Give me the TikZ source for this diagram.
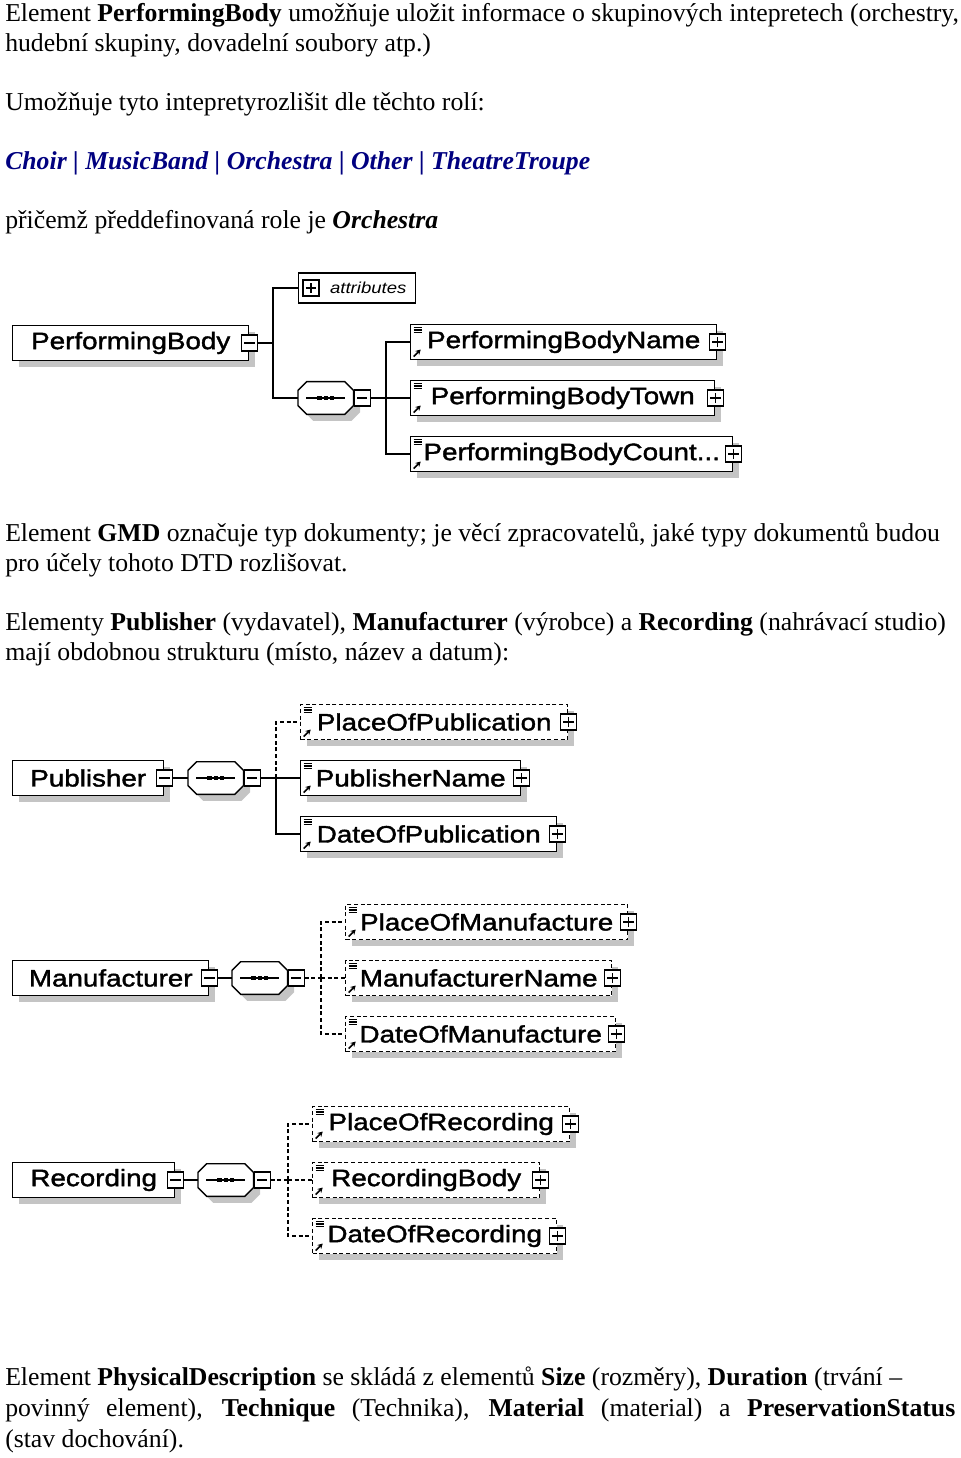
\documentclass[tikz,border=0pt]{standalone}
\usepackage{fontspec}
\setmainfont{Liberation Serif}
\newfontfamily\dgmfont{Liberation Sans}[FakeStretch=1.17,FakeBold=1.6]
\newfontfamily\attrfont{Liberation Sans}[FakeStretch=1.17]
\usepackage{xcolor}
\usetikzlibrary{positioning,arrows.meta,shadows,backgrounds}
\definecolor{rolenavy}{RGB}{0,0,128}
\definecolor{shadowgrey}{RGB}{196,196,196}
\newcommand{\bodyfont}{\fontsize{19.3}{22.5}\selectfont}
\newcommand{\boxfont}{\dgmfont\fontsize{17.8}{20}\selectfont}
% outline of a sequence compositor, corners cut
\newcommand{\octpath}[1]{([xshift=6.5pt]#1.north west) -- ([xshift=-6.5pt]#1.north east)
  -- ([yshift=-6.5pt]#1.north east) -- ([yshift=6.5pt]#1.south east)
  -- ([xshift=-6.5pt]#1.south east) -- ([xshift=6.5pt]#1.south west)
  -- ([yshift=6.5pt]#1.south west) -- ([yshift=-6.5pt]#1.north west) -- cycle}
\tikzset{
  para/.style    ={anchor=base west, align=left, inner sep=0pt, font=\bodyfont},
  shade/.style   ={drop shadow={shadow xshift=5pt, shadow yshift=-5pt, fill=shadowgrey,
                                draw=none, opacity=1}},
  elem/.style    ={draw, fill=white, line width=1.1pt, anchor=west, inner sep=0pt,
                   minimum height=26.25pt, font=\boxfont, shade},
  refelem/.style ={elem, path picture={
                     \foreach \k in {3,5.5,8}
                       \draw[solid, line width=0.8pt] ([shift={(3,\k)}]path picture bounding box.north west) -- ++(8,0);
                     \draw[solid, line width=1.3pt, -{Stealth[length=3.8pt,width=4.2pt]}]
                       ([shift={(3,-3)}]path picture bounding box.south west) -- ++(7,-7);}},
  optref/.style  ={refelem, dash pattern=on 3pt off 2pt},
  seqbox/.style  ={rectangle, anchor=west, inner sep=0pt,
                   minimum width=41.25pt, minimum height=24pt,
                   path picture={
                     \draw[line width=1pt] ([xshift=6pt]path picture bounding box.west)
                       -- ([xshift=-6pt]path picture bounding box.east);
                     \foreach \d in {-4.6pt,0pt,4.6pt}
                       \fill ([xshift=\d]path picture bounding box.center) +(-1.7pt,-1.7pt) rectangle +(1.7pt,1.7pt);}},
  seqframe/.style={draw, fill=white, line width=1.1pt, shade},
  tgl/.style     ={draw, fill=white, line width=0.9pt, inner sep=0pt, minimum size=12pt},
  minusbox/.style={tgl, path picture={
                     \draw[line width=0.9pt] ([xshift=2.2pt]path picture bounding box.west)
                       -- ([xshift=-2.2pt]path picture bounding box.east);}},
  plusbox/.style ={tgl, path picture={
                     \draw[line width=0.9pt] ([xshift=2.2pt]path picture bounding box.west)
                       -- ([xshift=-2.2pt]path picture bounding box.east);
                     \draw[line width=0.9pt] ([yshift=2.2pt]path picture bounding box.south)
                       -- ([yshift=-2.2pt]path picture bounding box.north);}},
  attrbox/.style ={draw, fill=white, line width=1.1pt, anchor=west, inner sep=0pt,
                   minimum width=87.75pt, minimum height=22.5pt,
                   font=\attrfont\itshape\fontsize{11.9}{14}\selectfont},
  conn/.style    ={line width=1.1pt},
  optconn/.style ={conn, dash pattern=on 3pt off 2pt},
}
\begin{document}
\begin{tikzpicture}[x=0.75pt,y=-0.75pt]
\useasboundingbox (0,0) rectangle (960,1458);

% ---------- text: PerformingBody ----------
\node[para] (intro) at (5,52) {Element \textbf{PerformingBody} umožňuje uložit informace o skupinových intepretech (orchestry,\\
  hudební skupiny, dovadelní soubory atp.)};
\node[para] (roles) at (5,111) {Umožňuje tyto intepretyrozlišit dle těchto rolí:};
\node[para, text=rolenavy, font=\bodyfont\bfseries\itshape] (rolelist) at (5,170)
  {Choir | MusicBand | Orchestra | Other | TheatreTroupe};
\node[para] (default) at (5,229) {přičemž předdefinovaná role je \textbf{\textit{Orchestra}}};

% ---------- diagram: PerformingBody ----------
\node[elem, minimum width=177pt] (pb) at (12,343) {PerformingBody};
\node[minusbox] (pbm) at (pb.east) {};
\node[attrbox] (attr) at (298,288) {\hspace*{16.5pt}attributes};
\node[plusbox] (attrp) at ([xshift=9.75pt]attr.west) {};
\node[seqbox] (pbseq) at (298,398) {};
\node[minusbox, anchor=west] (pbsm) at (pbseq.east) {};
\coordinate (pbj) at (273,343);
\coordinate (pbk) at (386,398);
\foreach \nm/\lab/\w/\yy in {pbname/PerformingBodyName/306/342, pbtown/PerformingBodyTown/304/398}{
  \node[refelem, minimum width=\w*0.75pt] (\nm) at (410,\yy) {\lab};
  \node[plusbox] (\nm p) at (\nm.east) {};
}
\node[refelem, minimum width=241.5pt] (pbcount) at (410,454) {PerformingBodyCount...};
\node[plusbox] (pbcountp) at (pbcount.east) {};
\draw[conn] (pbm.east) -- (pbj) |- (attr.west);
\draw[conn] (pbj) |- (pbseq.west);
\draw[conn] (pbsm.east) -- (pbk);
\foreach \c in {pbname,pbtown,pbcount}
  \draw[conn] (pbk) |- (\c.west);

% ---------- text: GMD, Publisher ... ----------
\node[para] (gmd) at (5,571) {Element \textbf{GMD} označuje typ dokumenty; je věcí zpracovatelů, jaké typy dokumentů budou\\
  pro účely tohoto DTD rozlišovat.};
\node[para] (similar) at (5,660) {Elementy \textbf{Publisher} (vydavatel), \textbf{Manufacturer} (výrobce) a \textbf{Recording} (nahrávací studio)\\
  mají obdobnou strukturu (místo, název a datum):};

% ---------- diagram: Publisher ----------
\node[elem, minimum width=113.25pt] (pub) at (12,778) {Publisher};
\node[minusbox] (pubm) at (pub.east) {};
\node[seqbox] (pubseq) at (188,778) {};
\node[minusbox, anchor=west] (pubsm) at (pubseq.east) {};
\coordinate (pubk) at (276,778);
\foreach \nm/\lab/\w/\yy/\st in {pubplace/PlaceOfPublication/267/722/optref,
    pubname/PublisherName/220/778/refelem, pubdate/DateOfPublication/256/834/refelem}{
  \node[\st, minimum width=\w*0.75pt] (\nm) at (300,\yy) {\lab};
  \node[plusbox] (\nm p) at (\nm.east) {};
}
\draw[conn] (pubm.east) -- (pubseq.west);
\draw[conn] (pubsm.east) -- (pubk);
\draw[optconn] (pubk) |- (pubplace.west);
\draw[conn] (pubk) -- (pubname.west);
\draw[conn] (pubk) |- (pubdate.west);

% ---------- diagram: Manufacturer ----------
\node[elem, minimum width=147pt] (man) at (12,978) {Manufacturer};
\node[minusbox] (manm) at (man.east) {};
\node[seqbox] (manseq) at (232,978) {};
\node[minusbox, anchor=west] (mansm) at (manseq.east) {};
\coordinate (mank) at (321,978);
\foreach \nm/\lab/\w/\yy in {manplace/PlaceOfManufacture/282/922,
    manname/ManufacturerName/266/978, mandate/DateOfManufacture/270/1034}{
  \node[optref, minimum width=\w*0.75pt] (\nm) at (345,\yy) {\lab};
  \node[plusbox] (\nm p) at (\nm.east) {};
}
\draw[conn] (manm.east) -- (manseq.west);
\draw[optconn] (mansm.east) -- (mank);
\foreach \c in {manplace,manname,mandate}
  \draw[optconn] (mank) |- (\c.west);

% ---------- diagram: Recording ----------
\node[elem, minimum width=121.5pt] (rec) at (12,1180) {Recording};
\node[minusbox] (recm) at (rec.east) {};
\node[seqbox] (recseq) at (198,1180) {};
\node[minusbox, anchor=west] (recsm) at (recseq.east) {};
\coordinate (reck) at (288,1180);
\foreach \nm/\lab/\w/\yy in {recplace/PlaceOfRecording/257/1124,
    recbody/RecordingBody/227/1180, recdate/DateOfRecording/244/1236}{
  \node[optref, minimum width=\w*0.75pt] (\nm) at (312,\yy) {\lab};
  \node[plusbox] (\nm p) at (\nm.east) {};
}
\draw[conn] (recm.east) -- (recseq.west);
\draw[optconn] (recsm.east) -- (reck);
\foreach \c in {recplace,recbody,recdate}
  \draw[optconn] (reck) |- (\c.west);

% sequence outlines, behind their dots
\begin{scope}[on background layer]
  \foreach \s in {pbseq,pubseq,manseq,recseq}
    \path[seqframe] \octpath{\s};
\end{scope}

% ---------- text: PhysicalDescription ----------
\node[para, font=\fontsize{19.3}{23.25}\selectfont] (physdesc) at (5,1447)
  {Element \textbf{PhysicalDescription} se skládá z elementů \textbf{Size} (rozměry), \textbf{Duration} (trvání –\\
  \makebox[712.5pt][s]{povinný element), \textbf{Technique} (Technika), \textbf{Material} (material) a \textbf{PreservationStatus}}\\
  (stav dochování).};
\end{tikzpicture}
\end{document}
